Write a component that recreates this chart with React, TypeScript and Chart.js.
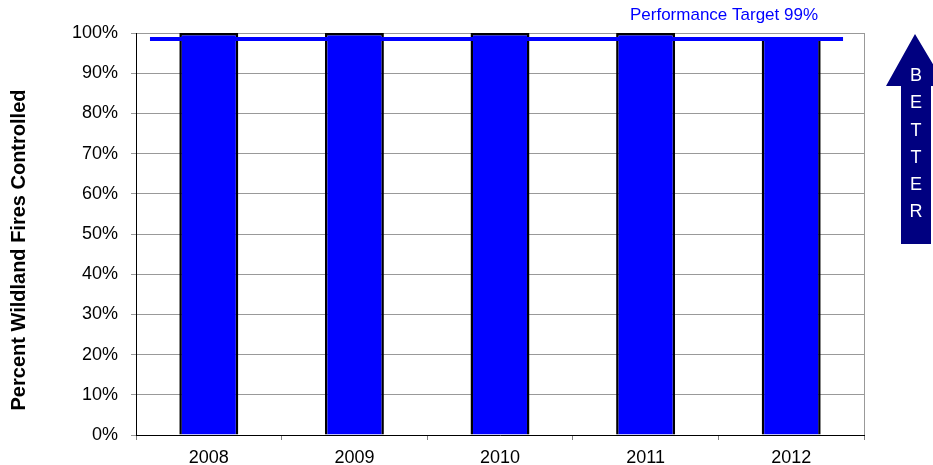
import React, { useEffect, useRef } from 'react';
import { Chart, registerables } from 'chart.js';

Chart.register(...registerables);

// ---- data ----
const categories = ['2008', '2009', '2010', '2011', '2012'];
const percentControlled = [100, 100, 100, 100, 98.8];
const targetValue = 98.5;
const targetStart = 0.096; // category units (hidden linear axis 0..5)
const targetEnd = 4.856;
const yMin = 0;
const yMax = 100;
const yStep = 10;
const targetLabel = 'Performance Target 99%';
const yTitle = 'Percent Wildland Fires Controlled';
const arrowLetters = ['B', 'E', 'T', 'T', 'E', 'R'];

const FONT = '"Liberation Sans", Arial, sans-serif';

const decorPlugin = {
  id: 'decor',
  afterDraw(chart: any) {
    const ctx = chart.ctx as CanvasRenderingContext2D;
    const a = chart.chartArea;
    ctx.save();
    // right border of plot area
    ctx.strokeStyle = '#999999';
    ctx.lineWidth = 1;
    ctx.beginPath();
    ctx.moveTo(Math.round(a.right) + 0.5, a.top);
    ctx.lineTo(Math.round(a.right) + 0.5, a.bottom);
    ctx.stroke();

    // target label
    ctx.fillStyle = '#0000ff';
    ctx.font = `17px ${FONT}`;
    ctx.textAlign = 'center';
    ctx.textBaseline = 'middle';
    ctx.fillText(targetLabel, 724, 15);

    // y axis title
    ctx.save();
    ctx.translate(19, 250);
    ctx.rotate(-Math.PI / 2);
    ctx.fillStyle = '#000000';
    ctx.font = `bold 20px ${FONT}`;
    ctx.textAlign = 'center';
    ctx.textBaseline = 'middle';
    ctx.fillText(yTitle, 0, 0);
    ctx.restore();

    // BETTER arrow
    const cx = 916;
    ctx.fillStyle = '#000080';
    ctx.beginPath();
    ctx.moveTo(cx - 1, 34);
    ctx.lineTo(cx + 30, 86);
    ctx.lineTo(cx + 15, 86);
    ctx.lineTo(cx + 15, 244);
    ctx.lineTo(cx - 15, 244);
    ctx.lineTo(cx - 15, 86);
    ctx.lineTo(cx - 30, 86);
    ctx.closePath();
    ctx.fill();
    ctx.fillStyle = '#ffffff';
    ctx.font = `18px ${FONT}`;
    ctx.textAlign = 'center';
    ctx.textBaseline = 'middle';
    arrowLetters.forEach((ch, i) => {
      ctx.fillText(ch, cx, 76 + i * 27.3);
    });
    ctx.restore();
  },
};

export default function App() {
  const ref = useRef<HTMLCanvasElement | null>(null);
  useEffect(() => {
    if (!ref.current) return;
    Chart.defaults.font.family = FONT;
    const chart = new Chart(ref.current, {
      type: 'bar',
      data: {
        labels: categories,
        datasets: [
          {
            type: 'line' as const,
            label: 'Target',
            xAxisID: 'x2',
            data: [
              { x: targetStart, y: targetValue },
              { x: targetEnd, y: targetValue },
            ],
            borderColor: '#0000ff',
            borderWidth: 4,
            pointRadius: 0,
            order: 0,
          } as any,
          {
            type: 'bar' as const,
            label: 'Percent',
            data: percentControlled,
            backgroundColor: '#0000ff',
            borderColor: '#000000',
            borderWidth: 2.5,
            barPercentage: 0.405,
            categoryPercentage: 1,
            grouped: false,
            order: 1,
          } as any,
        ],
      },
      options: {
        responsive: false,
        animation: false,
        devicePixelRatio: 1,
        layout: { padding: { top: 33, right: 69, left: 0, bottom: 0 } },
        plugins: { legend: { display: false }, tooltip: { enabled: false } },
        scales: {
          x: {
            offset: true,
            grid: {
              offset: true,
              drawOnChartArea: false,
              drawTicks: true,
              tickLength: 5,
              color: '#808080',
            },
            border: { color: '#000000', width: 1 },
            ticks: { color: '#000000', font: { size: 18 }, padding: 7 },
            afterFit: (s: any) => {
              s.height = 30;
            },
          },
          x2: {
            type: 'linear',
            axis: 'x',
            min: 0,
            max: 5,
            offset: false,
            grid: { offset: false },
            display: false,
          },
          y: {
            min: yMin,
            max: yMax,
            grid: { color: '#999999', tickLength: 5 },
            border: { color: '#000000', width: 1 },
            ticks: {
              stepSize: yStep,
              color: '#000000',
              font: { size: 18 },
              padding: 13,
              callback: (v: any) => `${v}%`,
            },
            afterFit: (s: any) => {
              s.width = 136;
            },
          },
        },
      } as any,
      plugins: [decorPlugin],
    });
    return () => chart.destroy();
  }, []);
  return (
    <div style={{ position: 'absolute', left: 0, top: 0, width: 933, height: 465 }}>
      <canvas ref={ref} width={933} height={465} />
    </div>
  );
}
